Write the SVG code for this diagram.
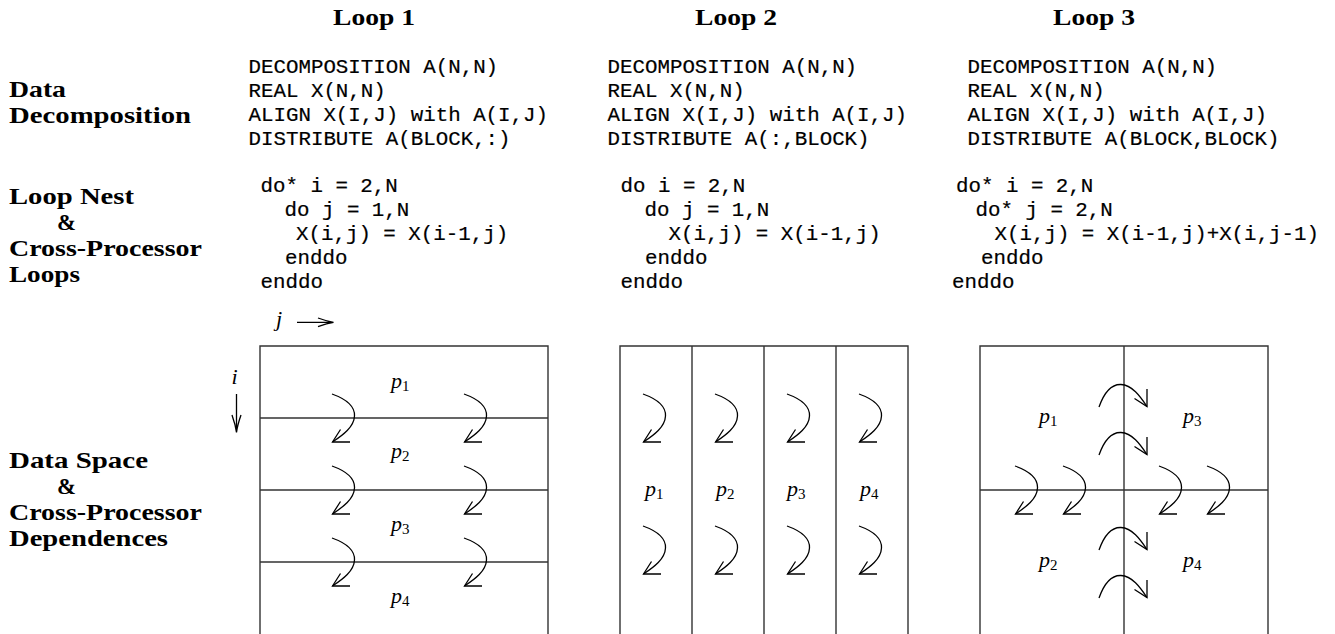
<svg xmlns="http://www.w3.org/2000/svg" xmlns:xlink="http://www.w3.org/1999/xlink" width="1335" height="634" viewBox="0 0 1335 634">
<style>
.hd{font-family:"Liberation Serif","DejaVu Serif",serif;font-weight:bold;font-size:23.5px;fill:#000}
.lb{font-family:"Liberation Serif","DejaVu Serif",serif;font-weight:bold;font-size:23px;fill:#000}
.cd{font-family:"Liberation Mono","DejaVu Sans Mono",monospace;font-size:20.8px;fill:#000;stroke:#000;stroke-width:0.2}
.m{font-family:"Liberation Serif",serif;font-style:italic;font-size:22px;fill:#000}
.sb{font-family:"Liberation Serif",serif;font-style:normal;font-size:15px}
.bx{fill:none;stroke:#333;stroke-width:1.4}
.ar{fill:none;stroke:#000;stroke-width:1.3}
</style>
<defs>
<g id="arr">
<path class="ar" d="M0,0 C14,5 23,12 22.5,22 C22,33 11,41 0.5,48"/>
<path class="ar" d="M18,48 L0.5,48 L8.5,35.5"/>
</g>
</defs>
<rect width="1335" height="634" fill="#fff"/>

<g id="headers">
<text class="hd" x="333" y="25" textLength="82" lengthAdjust="spacingAndGlyphs">Loop 1</text>
<text class="hd" x="695" y="25" textLength="82" lengthAdjust="spacingAndGlyphs">Loop 2</text>
<text class="hd" x="1053" y="25" textLength="82" lengthAdjust="spacingAndGlyphs">Loop 3</text>
</g>

<g id="row-labels">
<text class="lb" x="9" y="97" textLength="57" lengthAdjust="spacingAndGlyphs">Data</text>
<text class="lb" x="9" y="123" textLength="182" lengthAdjust="spacingAndGlyphs">Decomposition</text>
<text class="lb" x="9" y="204" textLength="125" lengthAdjust="spacingAndGlyphs">Loop Nest</text>
<text class="lb" x="57" y="230" textLength="19" lengthAdjust="spacingAndGlyphs">&amp;</text>
<text class="lb" x="9" y="256" textLength="193" lengthAdjust="spacingAndGlyphs">Cross-Processor</text>
<text class="lb" x="9" y="282" textLength="71" lengthAdjust="spacingAndGlyphs">Loops</text>
<text class="lb" x="9" y="468" textLength="139" lengthAdjust="spacingAndGlyphs">Data Space</text>
<text class="lb" x="57" y="494" textLength="19" lengthAdjust="spacingAndGlyphs">&amp;</text>
<text class="lb" x="9" y="520" textLength="193" lengthAdjust="spacingAndGlyphs">Cross-Processor</text>
<text class="lb" x="9" y="546" textLength="159" lengthAdjust="spacingAndGlyphs">Dependences</text>
</g>

<g id="loop1-code">
<text class="cd" x="248.5" y="73">DECOMPOSITION A(N,N)</text>
<text class="cd" x="248.5" y="97">REAL X(N,N)</text>
<text class="cd" x="248.5" y="121">ALIGN X(I,J) with A(I,J)</text>
<text class="cd" x="248.5" y="145">DISTRIBUTE A(BLOCK,:)</text>
<text class="cd" x="260.5" y="192">do* i = 2,N</text>
<text class="cd" x="284.5" y="216">do j = 1,N</text>
<text class="cd" x="296" y="240">X(i,j) = X(i-1,j)</text>
<text class="cd" x="285" y="264">enddo</text>
<text class="cd" x="260.5" y="288">enddo</text>
</g>

<g id="loop2-code">
<text class="cd" x="607.5" y="73">DECOMPOSITION A(N,N)</text>
<text class="cd" x="607.5" y="97">REAL X(N,N)</text>
<text class="cd" x="607.5" y="121">ALIGN X(I,J) with A(I,J)</text>
<text class="cd" x="607.5" y="145">DISTRIBUTE A(:,BLOCK)</text>
<text class="cd" x="620.5" y="192">do i = 2,N</text>
<text class="cd" x="644.5" y="216">do j = 1,N</text>
<text class="cd" x="668.5" y="240">X(i,j) = X(i-1,j)</text>
<text class="cd" x="645" y="264">enddo</text>
<text class="cd" x="620.5" y="288">enddo</text>
</g>

<g id="loop3-code">
<text class="cd" x="967.5" y="73">DECOMPOSITION A(N,N)</text>
<text class="cd" x="967.5" y="97">REAL X(N,N)</text>
<text class="cd" x="967.5" y="121">ALIGN X(I,J) with A(I,J)</text>
<text class="cd" x="967.5" y="145">DISTRIBUTE A(BLOCK,BLOCK)</text>
<text class="cd" x="956" y="192">do* i = 2,N</text>
<text class="cd" x="975.5" y="216">do* j = 2,N</text>
<text class="cd" x="994.5" y="240">X(i,j) = X(i-1,j)+X(i,j-1)</text>
<text class="cd" x="981" y="264">enddo</text>
<text class="cd" x="952" y="288">enddo</text>
</g>

<g id="loop1-space">
<path class="bx" d="M260,634 V346 H548 V634 M260,418 H548 M260,490 H548 M260,562 H548"/>
<text class="m" x="391" y="388">p<tspan class="sb" dy="3">1</tspan></text>
<text class="m" x="391" y="458">p<tspan class="sb" dy="3">2</tspan></text>
<text class="m" x="391" y="531">p<tspan class="sb" dy="3">3</tspan></text>
<text class="m" x="391" y="603">p<tspan class="sb" dy="3">4</tspan></text>
<text class="m" x="276" y="326">j</text>
<path class="ar" d="M297,322.3 H333 M318,318 Q327,321.3 333.5,322.3 Q327,323.3 318,326.6"/>
<text class="m" x="231.5" y="384">i</text>
<path class="ar" d="M236.5,394 V432 M232,415 Q235.5,425 236.5,432.5 Q237.5,425 241,415"/>
</g>

<g id="loop2-space">
<path class="bx" d="M620,634 V346 H908 V634 M692,346 V634 M764,346 V634 M836,346 V634"/>
<text class="m" x="645" y="496">p<tspan class="sb" dy="3">1</tspan></text>
<text class="m" x="716" y="496">p<tspan class="sb" dy="3">2</tspan></text>
<text class="m" x="787" y="496">p<tspan class="sb" dy="3">3</tspan></text>
<text class="m" x="860" y="496">p<tspan class="sb" dy="3">4</tspan></text>
</g>

<g id="loop3-space">
<path class="bx" d="M980,634 V346 H1268 V634 M1124,346 V634 M980,490 H1268"/>
<text class="m" x="1039" y="423">p<tspan class="sb" dy="3">1</tspan></text>
<text class="m" x="1183" y="423">p<tspan class="sb" dy="3">3</tspan></text>
<text class="m" x="1039" y="567">p<tspan class="sb" dy="3">2</tspan></text>
<text class="m" x="1183" y="567">p<tspan class="sb" dy="3">4</tspan></text>
</g>

<g id="connectors">
<use xlink:href="#arr" transform="translate(332,394)"/>
<use xlink:href="#arr" transform="translate(464,394)"/>
<use xlink:href="#arr" transform="translate(332,466)"/>
<use xlink:href="#arr" transform="translate(464,466)"/>
<use xlink:href="#arr" transform="translate(332,538)"/>
<use xlink:href="#arr" transform="translate(464,538)"/>

<use xlink:href="#arr" transform="translate(643,394)"/>
<use xlink:href="#arr" transform="translate(715,394)"/>
<use xlink:href="#arr" transform="translate(787,394)"/>
<use xlink:href="#arr" transform="translate(859,394)"/>
<use xlink:href="#arr" transform="translate(643,526)"/>
<use xlink:href="#arr" transform="translate(715,526)"/>
<use xlink:href="#arr" transform="translate(787,526)"/>
<use xlink:href="#arr" transform="translate(859,526)"/>

<use xlink:href="#arr" transform="translate(1015,466)"/>
<use xlink:href="#arr" transform="translate(1063,466)"/>
<use xlink:href="#arr" transform="translate(1159,466)"/>
<use xlink:href="#arr" transform="translate(1207,466)"/>
<use xlink:href="#arr" transform="translate(1099,407) rotate(-90)"/>
<use xlink:href="#arr" transform="translate(1099,455) rotate(-90)"/>
<use xlink:href="#arr" transform="translate(1099,550) rotate(-90)"/>
<use xlink:href="#arr" transform="translate(1099,598) rotate(-90)"/>
</g>
</svg>
